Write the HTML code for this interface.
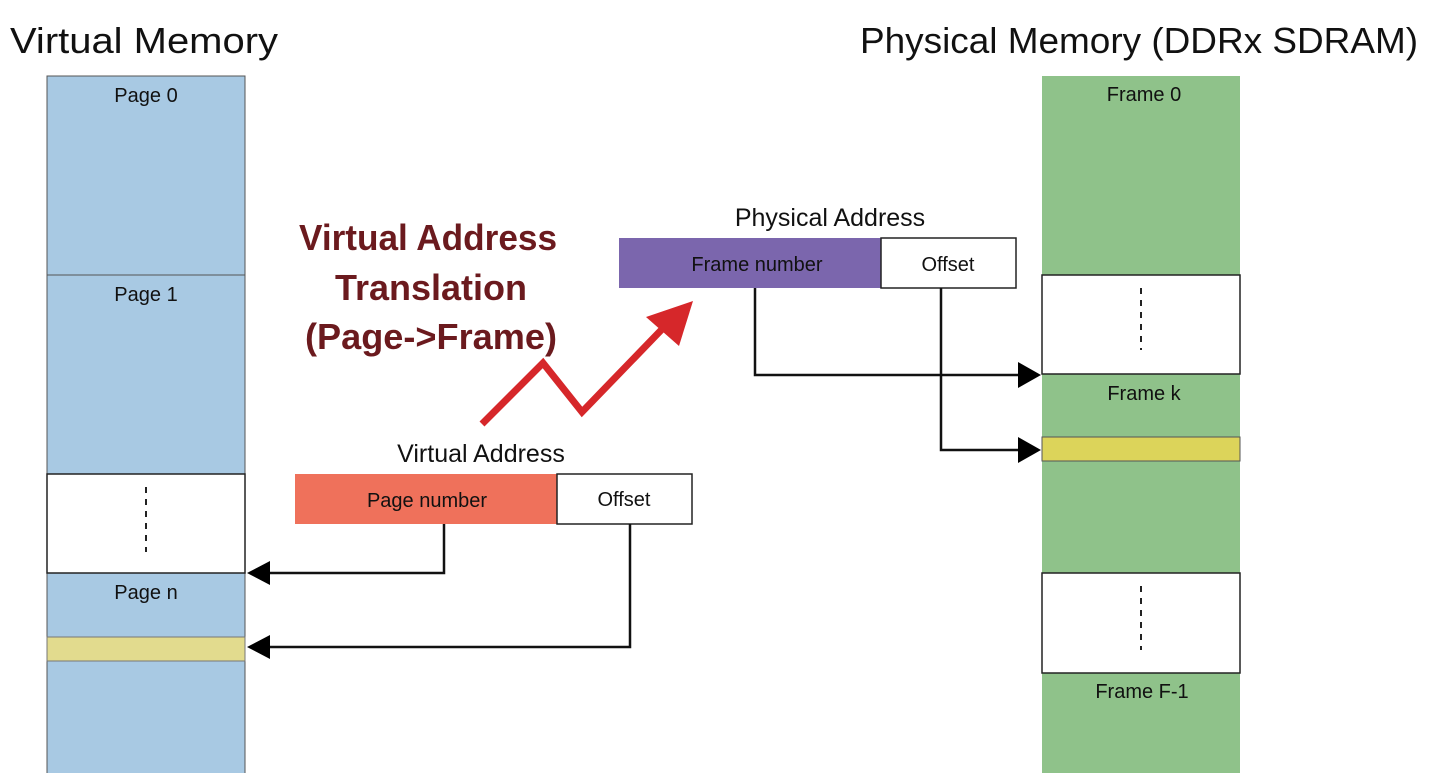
<!DOCTYPE html>
<html><head><meta charset="utf-8"><style>
html,body{margin:0;padding:0;background:#fff;width:1435px;height:773px;overflow:hidden}
svg{display:block}
text{font-family:"Liberation Sans",sans-serif}
</style></head><body>
<svg width="1435" height="773" viewBox="0 0 1435 773" xmlns="http://www.w3.org/2000/svg">
<text x="10" y="53" font-size="36" fill="#111" textLength="268" lengthAdjust="spacingAndGlyphs">Virtual Memory</text>
<text x="860" y="53" font-size="36" fill="#111" textLength="558" lengthAdjust="spacingAndGlyphs">Physical Memory (DDRx SDRAM)</text>

<!-- left column -->
<rect x="47" y="76" width="198" height="710" fill="#a8c9e3" stroke="#555" stroke-width="1"/>
<line x1="47" y1="275" x2="245" y2="275" stroke="#555"/>
<rect x="47" y="474" width="198" height="99" fill="#fff" stroke="#222" stroke-width="1.5"/>
<line x1="146" y1="487" x2="146" y2="552" stroke="#222" stroke-width="2" stroke-dasharray="6,6"/>
<rect x="47" y="637" width="198" height="24" fill="#e2db8e" stroke="#777"/>
<text x="146" y="102" font-size="20" text-anchor="middle" fill="#111">Page 0</text>
<text x="146" y="301" font-size="20" text-anchor="middle" fill="#111">Page 1</text>
<text x="146" y="599" font-size="20" text-anchor="middle" fill="#111">Page n</text>

<!-- right column -->
<rect x="1042" y="76" width="198" height="710" fill="#8fc28a"/>
<rect x="1042" y="275" width="198" height="99" fill="#fff" stroke="#222" stroke-width="1.5"/>
<line x1="1141" y1="288" x2="1141" y2="350" stroke="#222" stroke-width="2" stroke-dasharray="6,6"/>
<rect x="1042" y="437" width="198" height="24" fill="#dcd45a" stroke="#555"/>
<rect x="1042" y="573" width="198" height="100" fill="#fff" stroke="#222" stroke-width="1.5"/>
<line x1="1141" y1="586" x2="1141" y2="650" stroke="#222" stroke-width="2" stroke-dasharray="6,6"/>
<text x="1144" y="101" font-size="20" text-anchor="middle" fill="#111">Frame 0</text>
<text x="1144" y="400" font-size="20" text-anchor="middle" fill="#111">Frame k</text>
<text x="1142" y="698" font-size="20" text-anchor="middle" fill="#111">Frame F-1</text>

<!-- title -->
<g fill="#6b1a1e" font-size="36" font-weight="bold" text-anchor="middle">
<text x="428" y="250" textLength="258" lengthAdjust="spacingAndGlyphs">Virtual Address</text>
<text x="431" y="300">Translation</text>
<text x="431" y="349" textLength="252" lengthAdjust="spacingAndGlyphs">(Page-&gt;Frame)</text>
</g>

<!-- zigzag arrow -->
<polyline points="482,424 543,363 582,412 668,323" fill="none" stroke="#d6272a" stroke-width="7" stroke-linejoin="miter"/>
<polygon points="693,301 646,317 679,346" fill="#d6272a"/>

<!-- physical address -->
<text x="830" y="226" font-size="25" text-anchor="middle" fill="#111">Physical Address</text>
<rect x="619" y="238" width="262" height="50" fill="#7b66ad"/>
<rect x="881" y="238" width="135" height="50" fill="#fff" stroke="#222" stroke-width="1.5"/>
<text x="757" y="271" font-size="20" text-anchor="middle" fill="#111">Frame number</text>
<text x="948" y="271" font-size="20" text-anchor="middle" fill="#111">Offset</text>

<!-- virtual address -->
<text x="481" y="462" font-size="25" text-anchor="middle" fill="#111">Virtual Address</text>
<rect x="295" y="474" width="262" height="50" fill="#ef715b"/>
<rect x="557" y="474" width="135" height="50" fill="#fff" stroke="#222" stroke-width="1.5"/>
<text x="427" y="507" font-size="20" text-anchor="middle" fill="#111">Page number</text>
<text x="624" y="506" font-size="20" text-anchor="middle" fill="#111">Offset</text>

<!-- connectors -->
<g fill="none" stroke="#111" stroke-width="2.5">
<polyline points="444,524 444,573 268,573"/>
<polyline points="630,524 630,647 268,647"/>
<polyline points="755,288 755,375 1020,375"/>
<polyline points="941,288 941,450 1020,450"/>
</g>
<g fill="#000">
<polygon points="247,573 270,561 270,585"/>
<polygon points="247,647 270,635 270,659"/>
<polygon points="1041,375 1018,362 1018,388"/>
<polygon points="1041,450 1018,437 1018,463"/>
</g>
</svg>
</body></html>
